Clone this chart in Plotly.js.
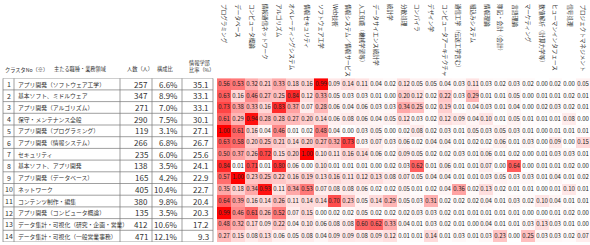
<!DOCTYPE html>
<html><head><meta charset="utf-8">
<script src="https://cdn.plot.ly/plotly-3.0.1.min.js"></script>
<style>html,body{margin:0;padding:0;background:#fff}#chart{width:590px;height:245px}</style>
</head><body><div id="chart"></div><script>
const subjects = ["プログラミング","データベース","コンピュータ概論","情報通信ネットワーク","アルゴリズム","オペレーティングシステム","情報セキュリティ","ソフトウェア工学","Web技術","情報システム／情報サービス","人工知能（機械学習等）","データサイエンス統計学","統計学","分散処理","コンパイラ","デザイン学","コンピュータアーキテクチャ","通信工学（伝送工学含む）","組込みシステム","情報理論","簿記・会計（会計）","言語理論","マーケティング","数値解析（計算力学等）","ヒューマンインタフェース","信号処理","プロジェクトマネジメント"];
const clusterNo = [1,2,3,4,5,6,7,8,9,10,11,12,13,14];
const roles = ["アプリ開発（ソフトウェア工学）","基本ソフト、ミドルウェア","アプリ開発（アルゴリズム）","保守・メンテナンス全般","アプリ開発（プログラミング）","アプリ開発（情報システム）","セキュリティ","基本ソフト、アプリ開発","アプリ開発（データベース）","ネットワーク","コンテンツ制作・編集","アプリ開発（コンピュータ概論）","データ集計・可視化（研究・企画・営業）","データ集計・可視化（一般営業事務）"];
const headcount = [257,347,271,290,119,266,235,138,165,405,380,135,412,471];
const shareText = ["6.6%","8.9%","7.0%","7.5%","3.1%","6.8%","6.0%","3.5%","4.2%","10.4%","9.8%","3.5%","10.6%","12.1%"];
const infoRatio = [35.1,33.1,33.1,30.1,27.1,26.7,25.6,24.1,22.9,22.7,20.4,20.3,17.2,9.3];
const row01 = [0.56,0.53,0.32,0.21,0.33,0.18,0.16,0.99,0.09,0.14,0.11,0.04,0.02,0.12,0.05,0.05,0.04,0.03,0.11,0.03,0.02,0.03,0.02,0.00,0.02,0.00,0.05];
const row02 = [0.63,0.16,0.46,0.27,0.25,0.84,0.12,0.33,0.05,0.03,0.03,0.01,0.00,0.20,0.12,0.02,0.22,0.03,0.29,0.01,0.01,0.05,0.00,0.01,0.01,0.02,0.01];
const row03 = [0.73,0.38,0.33,0.16,0.83,0.37,0.07,0.28,0.06,0.04,0.06,0.03,0.03,0.34,0.25,0.02,0.19,0.01,0.04,0.03,0.01,0.04,0.00,0.02,0.03,0.02,0.01];
const row04 = [0.61,0.29,0.94,0.28,0.28,0.27,0.20,0.14,0.06,0.08,0.06,0.04,0.05,0.12,0.03,0.02,0.12,0.09,0.04,0.10,0.01,0.05,0.01,0.01,0.01,0.08,0.00];
const row05 = [1.00,0.61,0.16,0.04,0.46,0.01,0.02,0.48,0.04,0.00,0.03,0.05,0.00,0.02,0.08,0.02,0.03,0.01,0.05,0.03,0.05,0.03,0.01,0.00,0.01,0.01,0.01];
const row06 = [0.63,0.58,0.20,0.25,0.21,0.14,0.20,0.27,0.32,0.73,0.03,0.07,0.03,0.06,0.02,0.04,0.04,0.01,0.02,0.02,0.06,0.01,0.03,0.00,0.09,0.00,0.15];
const row07 = [0.50,0.37,0.26,0.72,0.15,0.20,1.00,0.10,0.11,0.16,0.14,0.06,0.02,0.09,0.05,0.02,0.02,0.03,0.01,0.06,0.01,0.02,0.00,0.01,0.03,0.03,0.01];
const row08 = [0.84,0.01,0.71,0.01,0.80,0.06,0.00,0.10,0.01,0.01,0.01,0.00,0.02,0.03,0.62,0.01,0.06,0.01,0.01,0.07,0.00,0.64,0.00,0.01,0.01,0.02,0.00];
const row09 = [0.57,1.00,0.23,0.25,0.22,0.16,0.19,0.13,0.16,0.11,0.12,0.13,0.08,0.07,0.05,0.04,0.04,0.01,0.01,0.03,0.05,0.03,0.03,0.01,0.04,0.01,0.02];
const row10 = [0.35,0.18,0.34,0.93,0.11,0.34,0.53,0.07,0.08,0.08,0.06,0.02,0.02,0.05,0.01,0.02,0.04,0.36,0.02,0.13,0.02,0.01,0.01,0.00,0.01,0.10,0.01];
const row11 = [0.64,0.39,0.16,0.14,0.26,0.11,0.14,0.14,0.70,0.23,0.05,0.14,0.29,0.05,0.03,0.31,0.02,0.02,0.02,0.04,0.01,0.03,0.02,0.10,0.04,0.01,0.01];
const row12 = [0.99,0.46,0.61,0.26,0.52,0.07,0.15,0.00,0.02,0.02,0.05,0.02,0.02,0.02,0.03,0.03,0.02,0.01,0.01,0.01,0.01,0.01,0.00,0.00,0.01,0.02,0.00];
const row13 = [0.48,0.32,0.17,0.09,0.22,0.04,0.10,0.06,0.08,0.08,0.60,0.62,0.33,0.04,0.01,0.03,0.02,0.01,0.00,0.04,0.01,0.01,0.03,0.13,0.03,0.01,0.00];
const row14 = [0.27,0.15,0.08,0.13,0.06,0.05,0.08,0.04,0.09,0.09,0.08,0.09,0.12,0.01,0.01,0.14,0.01,0.03,0.01,0.03,0.23,0.00,0.25,0.03,0.03,0.02,0.07];
const headerCluster = "クラスタNo（※）";
const headerRole = "主たる職種・業務領域";
const headerCount = "人数（人）";
const headerShare = "構成比";
const headerRatio = "情報学部<br>比率（%）";

const z = [row01,row02,row03,row04,row05,row06,row07,row08,row09,row10,row11,row12,row13,row14];
const FONT = "Noto Sans CJK JP, sans-serif";
const W = 590, H = 245;
const px = v => v / W;
const py = v => 1 - v / H;

const trace = {
  type: 'heatmap', x: subjects, y: clusterNo, z: z,
  zmin: 0, zmax: 1,
  colorscale: [[0,'#ffffff'],[1,'#ff0000']],
  showscale: false, hoverinfo: 'skip',
  texttemplate: '%{z:.2f}',
  textfont: {size: 6, color: '#222222', family: FONT},
  xgap: 0, ygap: 0
};

const ann = [];
subjects.forEach(s => ann.push({
  x: s, xref: 'x', y: py(2), yref: 'paper', text: s, showarrow: false,
  textangle: 90, xanchor: 'center', yanchor: 'top',
  font: {size: 5.6, color: '#333', family: FONT}
}));
clusterNo.forEach((n, i) => {
  ann.push({x: px(8.5), xref:'paper', y: n, yref:'y', text: String(n), showarrow:false, xanchor:'center', yanchor:'middle', font:{size:7, color:'#333', family:FONT}});
  ann.push({x: px(16), xref:'paper', y: n, yref:'y', text: roles[i], showarrow:false, xanchor:'left', yanchor:'middle', font:{size:5.8, color:'#333', family:FONT}});
  ann.push({x: px(150), xref:'paper', y: n, yref:'y', text: String(headcount[i]), showarrow:false, xanchor:'right', yanchor:'middle', font:{size:8, color:'#333', family:FONT}});
  ann.push({x: px(180), xref:'paper', y: n, yref:'y', text: shareText[i], showarrow:false, xanchor:'right', yanchor:'middle', font:{size:8, color:'#333', family:FONT}});
  ann.push({x: px(211), xref:'paper', y: n, yref:'y', text: infoRatio[i].toFixed(1), showarrow:false, xanchor:'right', yanchor:'middle', font:{size:8, color:'#333', family:FONT}});
});
const hf = {size: 5.2, color: '#333', family: FONT};
ann.push({x: px(3), xref:'paper', y: py(69), yref:'paper', text: headerCluster, showarrow:false, xanchor:'left', yanchor:'middle', font: hf});
ann.push({x: px(52), xref:'paper', y: py(69), yref:'paper', text: headerRole, showarrow:false, xanchor:'left', yanchor:'middle', font: hf});
ann.push({x: px(125), xref:'paper', y: py(69), yref:'paper', text: headerCount, showarrow:false, xanchor:'left', yanchor:'middle', font: hf});
ann.push({x: px(155), xref:'paper', y: py(69), yref:'paper', text: headerShare, showarrow:false, xanchor:'left', yanchor:'middle', font: hf});
ann.push({x: px(187), xref:'paper', y: py(66), yref:'paper', text: headerRatio, showarrow:false, xanchor:'left', yanchor:'middle', align:'left', font: hf});

const shapes = [];
for (let k = 0; k <= clusterNo.length; k++) {
  shapes.push({type:'line', xref:'paper', yref:'y', x0: px(3), x1: px(213), y0: k + 0.5, y1: k + 0.5, line:{color:'#777', width:0.7}});
}
[3, 14, 120, 152, 182, 213].forEach(xv => shapes.push({type:'line', xref:'paper', yref:'y', x0: px(xv), x1: px(xv), y0: 0.5, y1: clusterNo.length + 0.5, line:{color:'#777', width:0.7}}));

const layout = {
  width: W, height: H, margin: {l:0, r:0, t:0, b:0},
  paper_bgcolor: '#fff', plot_bgcolor: '#fff',
  font: {family: FONT, color: '#333'},
  xaxis: {domain: [px(217), 1], type:'category', showticklabels:false, ticks:'', showgrid:false, zeroline:false, showline:false, fixedrange:true},
  yaxis: {domain: [1 - 242/H, 1 - 78.2/H], range: [14.5, 0.5], showticklabels:false, ticks:'', showgrid:false, zeroline:false, showline:false, fixedrange:true},
  annotations: ann, shapes: shapes, showlegend: false
};
Plotly.newPlot('chart', [trace], layout, {staticPlot: true, displayModeBar: false});
</script></body></html>
